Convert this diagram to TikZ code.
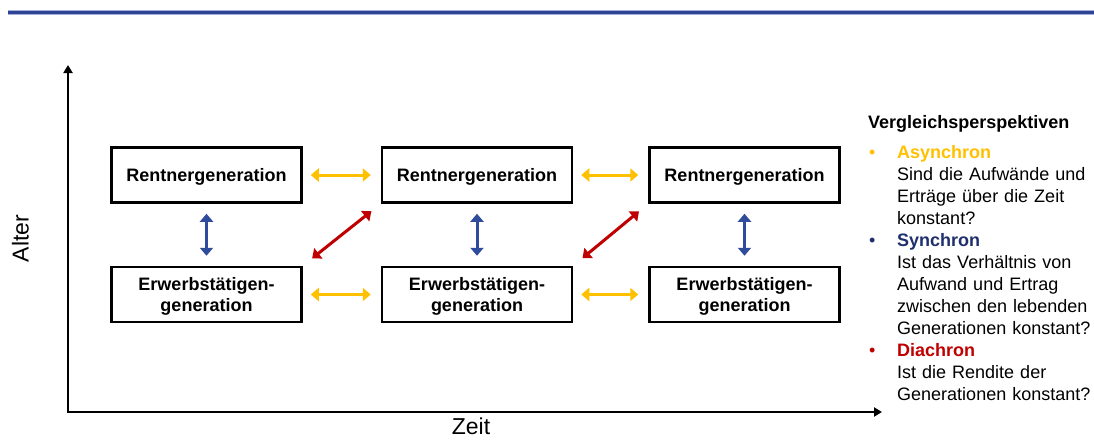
\documentclass[tikz,border=0pt]{standalone}
\usepackage{fontspec}
\setmainfont{Liberation Sans}
\usetikzlibrary{arrows.meta}
\definecolor{ayel}{HTML}{FFC000}
\definecolor{ablue}{HTML}{2F4B9B}
\definecolor{ared}{HTML}{C00000}
\definecolor{anavy}{HTML}{1F2F6E}
\definecolor{topdark}{HTML}{2E4391}
\definecolor{toplight}{HTML}{A4AEDC}
\begin{document}
\begin{tikzpicture}[x=1pt,y=-1pt,
  genbox/.style={draw=black, line width=2.5pt, minimum width=190pt, minimum height=55pt,
    font=\fontsize{18}{21}\selectfont\bfseries, align=center, inner sep=0pt, text depth=0pt},
  rbox/.style={genbox, text height=12pt},
  ebox/.style={genbox, text height=33pt},
  dbl/.style={line width=3pt, {Triangle[width=13pt,length=8pt]}-{Triangle[width=13pt,length=8pt]}},
  horiz/.style={dbl, draw=ayel, shorten <=8pt, shorten >=10pt},
  vert/.style={dbl, draw=ablue, shorten <=10pt, shorten >=10pt},
  diag/.style={dbl, draw=ared, shorten <=12pt, shorten >=12pt},
  axis/.style={line width=2.8pt, {Triangle[width=9pt,length=8pt]}-{Triangle[width=9pt,length=8pt]}},
  axlabel/.style={font=\fontsize{23}{27}\selectfont, inner sep=0pt},
  txt/.style={font=\fontsize{18}{22}\selectfont, inner sep=0pt}
]
\useasboundingbox (0,0) rectangle (1094,439);
% top rule
\draw[toplight, line width=5.5pt] (8,12.5) -- (1094,12.5);
\draw[topdark, line width=3.5pt] (8,12.5) -- (1094,12.5);

% axes
\coordinate (ytop) at (68,65);
\coordinate (orig) at (68,412);
\coordinate (xend) at (882,412);
\draw[axis] (ytop) -- (orig) -- (xend);
\node[axlabel, rotate=90] (alter) at (20.5,238.5) {Alter};
\node[axlabel] (zeit) at (471,426) {Zeit};

% boxes
\node[rbox] (r1) at (206.5,175) {Rentnergeneration};
\node[rbox] (r2) at (477,175) {Rentnergeneration};
\node[rbox] (r3) at (744.5,175) {Rentnergeneration};
\node[ebox] (e1) at (206.5,294.5) {Erwerbstätigen-\\generation};
\node[ebox] (e2) at (477,294.5) {Erwerbstätigen-\\generation};
\node[ebox] (e3) at (744.5,294.5) {Erwerbstätigen-\\generation};

% connectors
\draw[horiz] (r1.east) -- (r2.west);
\draw[horiz] (r2.east) -- (r3.west);
\draw[horiz] (e1.east) -- (e2.west);
\draw[horiz] (e2.east) -- (e3.west);
\draw[vert] (r1.south) -- (e1.north);
\draw[vert] (r2.south) -- (e2.north);
\draw[vert] (r3.south) -- (e3.north);
\draw[diag] (e1.north east) -- (r2.south west);
\draw[diag] (e2.north east) -- (r3.south west);

% legend
\node[txt, font=\fontsize{18}{22}\selectfont\bfseries, anchor=base west] (title) at (868,128) {Vergleichsperspektiven};
\node[txt, anchor=base west, text=ayel] (b1) at (869,158) {•};
\node[txt, anchor=base west, text=anavy] (b2) at (869,246) {•};
\node[txt, anchor=base west, text=ared] (b3) at (869,356) {•};
\node[txt, anchor=north west, text width=200pt, align=left] (list) at (897,142.6) {%
\strut\textcolor{ayel}{\bfseries Asynchron}\\
Sind die Aufwände und\\
Erträge über die Zeit\\
konstant?\\
\textcolor{anavy}{\bfseries Synchron}\\
Ist das Verhältnis von\\
Aufwand und Ertrag\\
zwischen den lebenden\\
Generationen konstant?\\
\textcolor{ared}{\bfseries Diachron}\\
Ist die Rendite der\\
Generationen konstant?};
\end{tikzpicture}
\end{document}
